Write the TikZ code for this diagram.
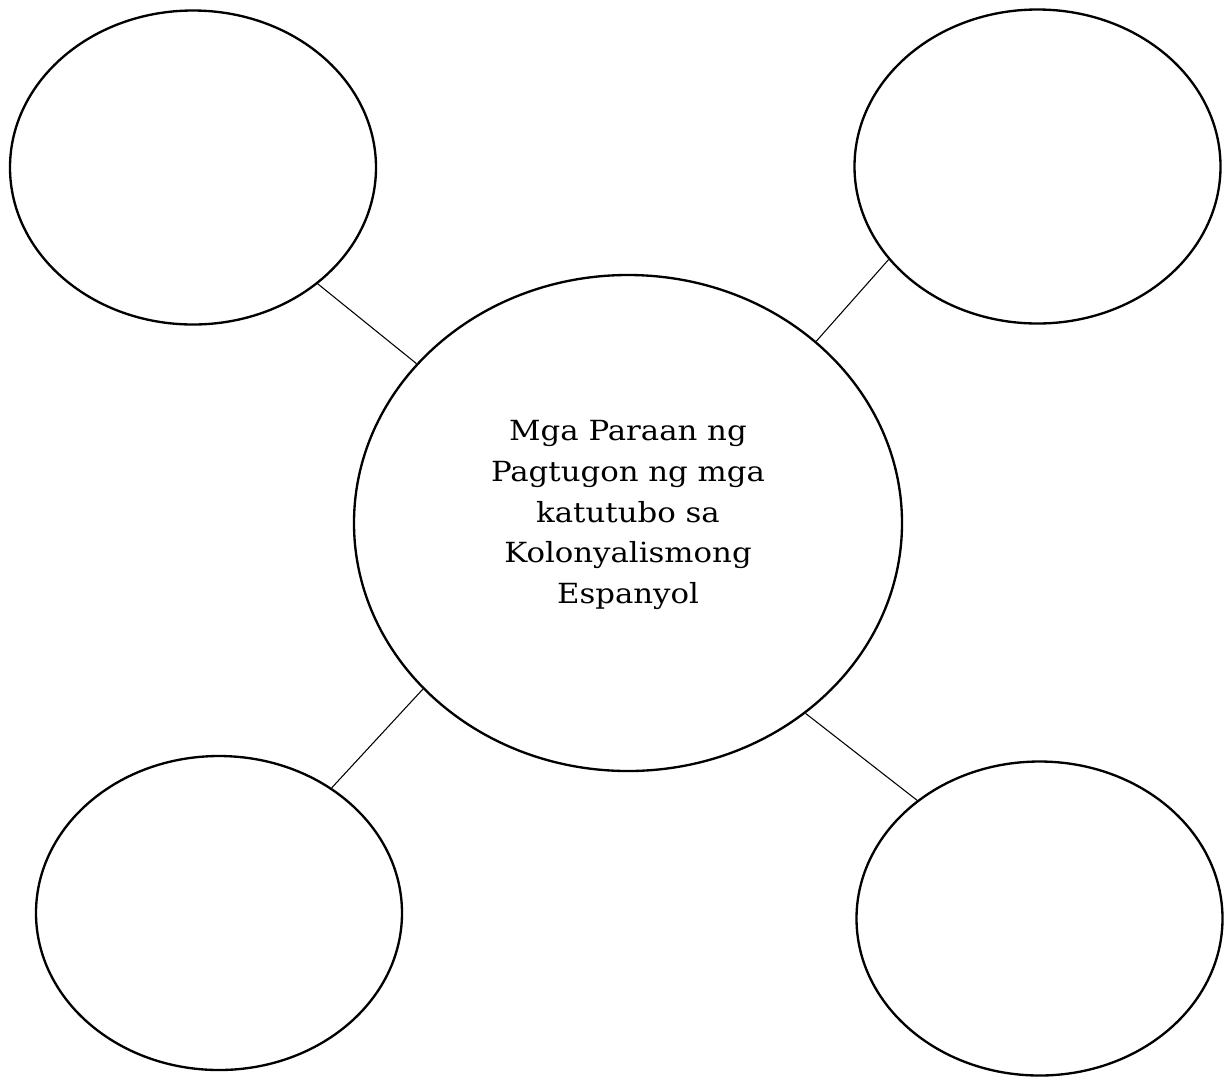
\documentclass[tikz,border=0pt]{standalone}
\usepackage{fontspec}
\setmainfont{DejaVu Serif}
\newfontfamily\capfont[FakeStretch=1.11]{DejaVu Serif}
\usetikzlibrary{shapes.geometric}
\begin{document}
\begin{tikzpicture}[x=0.75pt,y=-0.75pt,
  bubble/.style={draw,ellipse,line width=1.75pt,inner sep=0pt,minimum width=274.5pt,minimum height=235.5pt},
  hub/.style={draw,ellipse,line width=1.75pt,inner sep=0pt,minimum width=411pt,minimum height=372pt},
  link/.style={line width=0.8pt},
  caption/.style={align=center,font=\capfont\fontsize{20.8}{30.6}\selectfont,inner sep=0pt}]
\useasboundingbox (0,0) rectangle (1226,1076);
\node[hub] (c) at (628,523) {};
\node[bubble] (tl) at (193,167.5) {};
\node[bubble] (tr) at (1037.5,166.5) {};
\node[bubble] (bl) at (219,913) {};
\node[bubble] (br) at (1039.5,918.5) {};
\node[caption] (title) at (628,515) {Mga Paraan ng\\Pagtugon ng mga\\katutubo sa\\Kolonyalismong\\Espanyol};
\draw[link] (tl.317.1) -- (c.143.4);
\draw[link] (tr.212.2) -- (c.44.2);
\draw[link] (bl.48.4) -- (c.219.5);
\draw[link] (br.136.2) -- (c.313.6);
\end{tikzpicture}
\end{document}
